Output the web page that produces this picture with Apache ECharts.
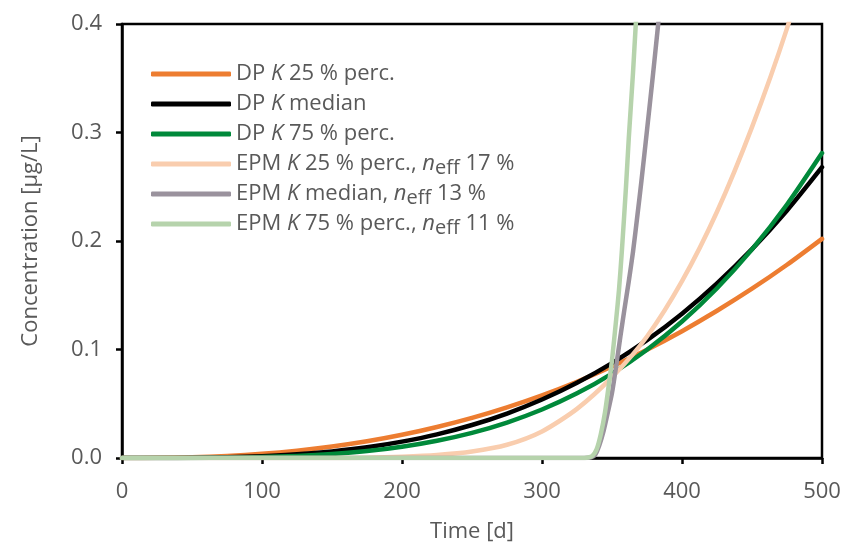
<!DOCTYPE html>
<html>
<head>
<meta charset="utf-8">
<script src="https://cdn.jsdelivr.net/npm/echarts@6/dist/echarts.min.js"></script>
<style>
html,body{margin:0;padding:0;background:#fff;}
#chart{width:853px;height:548px;}
</style>
</head>
<body>
<div id="chart"></div>
<script>
// ---- data ----
const seriesNames = [
  'DP K 25 % perc.',
  'DP K median',
  'DP K 75 % perc.',
  'EPM K 25 % perc., neff 17 %',
  'EPM K median, neff 13 %',
  'EPM K 75 % perc., neff 11 %'
];
const dpDays = [0,25,50,75,100,125,150,175,200,225,250,275,300,325,350,375,400,425,450,475,500];
const dp25 = [0,0.00013,0.0007,0.0019,0.0039,0.0068,0.0106,0.0154,0.0214,0.0286,0.0370,0.0467,0.0578,0.0703,0.0843,0.0998,0.1169,0.1357,0.1560,0.1781,0.202];
const dpMedian = [0,0.00002,0.00019,0.0007,0.0017,0.0034,0.0061,0.0099,0.0151,0.0218,0.0304,0.0410,0.0539,0.0693,0.0875,0.1086,0.1330,0.1609,0.1925,0.2281,0.268];
const dp75 = [0,0.000006,0.00007,0.0003,0.00085,0.0019,0.0037,0.0064,0.0104,0.0159,0.0232,0.0327,0.0447,0.0596,0.0778,0.0998,0.1258,0.1565,0.1923,0.2336,0.281];

const epm25Days = [0,100,150,175,200,225,250,275,300,325,350,375,400,425,450,475,500];
const epm25 = [0,0,0,0.0003,0.0012,0.0028,0.006,0.0122,0.0245,0.0453,0.0745,0.112,0.163,0.227,0.305,0.396,0.503];

const epmMedDays = [0,330,335,338,341,344,347,350,353,356,359,362,365,368,371,375,379,383,387];
const epmMed = [0,0,0.0005,0.003,0.012,0.025,0.042,0.06,0.085,0.112,0.138,0.163,0.19,0.222,0.255,0.302,0.35,0.4,0.45];

const epm75Days = [0,328,333,336,339,342,345,348,350,353,355,357,360,362,365,367,370];
const epm75 = [0,0,0.0005,0.002,0.008,0.022,0.042,0.07,0.09,0.128,0.155,0.19,0.25,0.295,0.355,0.4,0.46];

const xTicks = [0,100,200,300,400,500];
const yTicks = [0.0,0.1,0.2,0.3,0.4];

// ---- styling ----
const colors = ['#ED7D31','#000000','#00893A','#F9CDAE','#9A929D','#B6D3AC'];
const FONT = 'Open Sans';
const TXT = '#595959';
const FS = 22;

function pairs(xs, ys){ return xs.map((x,i)=>[x, ys[i]]); }
const allData = [
  pairs(dpDays, dp25),
  pairs(dpDays, dpMedian),
  pairs(dpDays, dp75),
  pairs(epm25Days, epm25),
  pairs(epmMedDays, epmMed),
  pairs(epm75Days, epm75)
];

const legendFmt = {
  'DP K 25 % perc.': '{n|DP }{i|K}{n| 25 % perc.}{s| }',
  'DP K median': '{n|DP }{i|K}{n| median}{s| }',
  'DP K 75 % perc.': '{n|DP }{i|K}{n| 75 % perc.}{s| }',
  'EPM K 25 % perc., neff 17 %': '{n|EPM }{i|K}{n| 25 % perc., }{i|n}{s|eff}{n| 17 %}',
  'EPM K median, neff 13 %': '{n|EPM }{i|K}{n| median, }{i|n}{s|eff}{n| 13 %}',
  'EPM K 75 % perc., neff 11 %': '{n|EPM }{i|K}{n| 75 % perc., }{i|n}{s|eff}{n| 11 %}'
};

const chart = echarts.init(document.getElementById('chart'), null, {renderer:'canvas'});
chart.setOption({
  animation: false,
  backgroundColor: '#fff',
  grid: {left:122, right:31, top:24, bottom:90, show:true, borderColor:'#000', borderWidth:2.5, backgroundColor:'transparent'},
  legend: {
    orient: 'vertical',
    left: 146, top: 58,
    icon: 'roundRect',
    itemWidth: 80, itemHeight: 5, itemGap: 4.5,
    data: seriesNames,
    formatter: (name) => legendFmt[name],
    textStyle: {
      color: TXT, fontFamily: FONT, fontSize: FS,
      rich: {
        n: {color: TXT, fontFamily: FONT, fontSize: FS},
        i: {color: TXT, fontFamily: FONT, fontSize: FS, fontStyle: 'italic'},
        s: {color: TXT, fontFamily: FONT, fontSize: 20, padding: [9,0,0,0]}
      }
    }
  },
  xAxis: {
    type: 'value', min: 0, max: 500, interval: 100,
    name: 'Time [d]', nameLocation: 'middle', nameGap: 63,
    nameTextStyle: {color: TXT, fontFamily: FONT, fontSize: FS},
    axisLine: {show: true, lineStyle: {color:'#000', width: 2.5}},
    axisTick: {show: true, inside: false, length: 6, lineStyle: {color:'#000', width: 2.5}},
    axisLabel: {color: TXT, fontFamily: FONT, fontSize: FS, margin: 23,
      formatter: (v) => xTicks.includes(v) ? String(v) : ''},
    splitLine: {show: false}
  },
  yAxis: {
    type: 'value', min: 0, max: 0.4, interval: 0.1,
    name: 'Concentration [µg/L]', nameLocation: 'middle', nameGap: 80,
    nameTextStyle: {color: TXT, fontFamily: FONT, fontSize: FS},
    axisLine: {show: true, lineStyle: {color:'#000', width: 2.5}},
    axisTick: {show: true, inside: false, length: 6, lineStyle: {color:'#000', width: 2.5}},
    axisLabel: {color: TXT, fontFamily: FONT, fontSize: FS, margin: 20,
      formatter: (v) => { const t = yTicks.find(y => Math.abs(y - v) < 1e-9); return t === undefined ? '' : t.toFixed(1); }},
    splitLine: {show: false}
  },
  series: allData.map((d, i) => ({
    name: seriesNames[i],
    type: 'line',
    data: d,
    showSymbol: false,
    symbol: 'none',
    smooth: 0.25,
    clip: true,
    color: colors[i],
    itemStyle: {color: colors[i]},
    lineStyle: {color: colors[i], width: 4.5, cap: 'round', join: 'round'},
    emphasis: {disabled: true},
    z: 2 + i
  }))
});
</script>
</body>
</html>
